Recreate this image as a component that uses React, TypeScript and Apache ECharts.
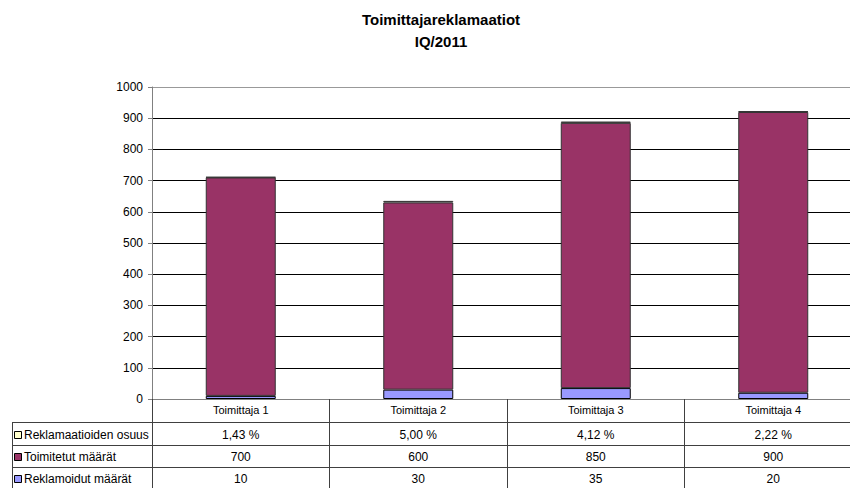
import React, { useEffect, useRef } from "react";
import * as echarts from "echarts";

const categories = ["Toimittaja 1", "Toimittaja 2", "Toimittaja 3", "Toimittaja 4"];
const reklamoidut = [10, 30, 35, 20];
const toimitetut = [700, 600, 850, 900];
const osuus = [1.43, 5.0, 4.12, 2.22];
const yTicks = [0, 100, 200, 300, 400, 500, 600, 700, 800, 900, 1000];

const rows = [
  { name: "Reklamaatioiden osuus", color: "#FFFFCC", values: osuus.map((v) => v.toFixed(2).replace(".", ",") + " %") },
  { name: "Toimitetut määrät", color: "#993366", values: toimitetut.map(String) },
  { name: "Reklamoidut määrät", color: "#9999FF", values: reklamoidut.map(String) },
];

const FONT = "Arial, 'Liberation Sans', sans-serif";

export default function App() {
  const ref = useRef<HTMLDivElement>(null);
  useEffect(() => {
    if (!ref.current) return;
    const chart = echarts.init(ref.current, undefined, { renderer: "svg" });
    const gridTop = 87;
    const gridLeft = 152;
    const gridHeight = 312;
    const gridWidth = 710;
    const rowTops = [422, 445, 467];
    const rowH = [23, 22, 21];
    const tableLeft = 12;

    const splitColors = yTicks.map((_, i) => (i === yTicks.length - 1 ? "#999999" : "#000000"));

    chart.setOption({
      animation: false,
      textStyle: { fontFamily: FONT },
      title: {
        text: "Toimittajareklamaatiot\nIQ/2011",
        left: 436,
        textAlign: "center",
        top: 3,
        textStyle: { fontSize: 15, fontWeight: "bold", color: "#000", lineHeight: 22, fontFamily: FONT },
      },
      grid: { left: gridLeft, top: gridTop, width: gridWidth, height: gridHeight, containLabel: false },
      xAxis: {
        type: "category",
        data: categories,
        axisLine: { show: true, lineStyle: { color: "#808080", width: 1 } },
        axisTick: { show: true, length: 89, lineStyle: { color: "#404040", width: 1 } },
        axisLabel: { color: "#000", fontSize: 11, margin: 5, fontFamily: FONT },
        splitLine: { show: false },
      },
      yAxis: {
        type: "value",
        min: 0,
        max: 1000,
        interval: 100,
        axisLine: { show: true, lineStyle: { color: "#808080", width: 1 } },
        axisTick: { show: true, length: 4, lineStyle: { color: "#808080" } },
        axisLabel: { color: "#000", fontSize: 12, margin: 9, fontFamily: FONT, formatter: (v: number) => String(v) },
        splitLine: { show: true, lineStyle: { color: splitColors, width: 1 } },
      },
      series: [
        {
          name: "Reklamoidut määrät",
          type: "bar",
          stack: "a",
          data: reklamoidut,
          barWidth: 70,
          itemStyle: { color: "#9999FF", borderColor: "#000", borderWidth: 1 },
        },
        {
          name: "Toimitetut määrät",
          type: "bar",
          stack: "a",
          data: toimitetut,
          barWidth: 70,
          itemStyle: { color: "#993366", borderColor: "#333", borderWidth: 1 },
        },
        {
          name: "Reklamaatioiden osuus",
          type: "bar",
          stack: "a",
          data: osuus,
          barWidth: 70,
          itemStyle: { color: "#FFFFCC", borderColor: "#333", borderWidth: 1 },
        },
      ],
    });

    const graphics: any[] = [];
    rowTops.forEach((y) => {
      graphics.push({
        type: "line",
        shape: { x1: tableLeft, y1: y + 0.5, x2: 870, y2: y + 0.5 },
        style: { stroke: "#404040", lineWidth: 1 },
        silent: true,
      });
    });
    graphics.push({
      type: "line",
      shape: { x1: tableLeft + 0.5, y1: rowTops[0], x2: tableLeft + 0.5, y2: 488 },
      style: { stroke: "#404040", lineWidth: 1 },
    });
    rows.forEach((row, r) => {
      const cy = rowTops[r] + rowH[r] / 2 + 1;
      graphics.push({
        type: "rect",
        shape: { x: 14.5, y: Math.round(cy - 4) + 0.5, width: 7, height: 7 },
        style: { fill: row.color, stroke: "#000", lineWidth: 1 },
      });
      graphics.push({
        type: "text",
        x: 24,
        y: cy,
        style: { text: row.name, fontSize: 12, fontFamily: FONT, fill: "#000", verticalAlign: "middle", align: "left" },
      });
      row.values.forEach((v, i) => {
        const px = chart.convertToPixel({ xAxisIndex: 0 }, i) as number;
        graphics.push({
          type: "text",
          x: px,
          y: cy,
          style: { text: v, fontSize: 12, fontFamily: FONT, fill: "#000", verticalAlign: "middle", align: "center" },
        });
      });
    });
    chart.setOption({ graphic: graphics });
    return () => chart.dispose();
  }, []);
  return (
    <div style={{ width: 850, height: 488, position: "absolute", left: 0, top: 0, overflow: "hidden", background: "#fff" }}>
      <div ref={ref} style={{ width: 870, height: 488 }} />
    </div>
  );
}
